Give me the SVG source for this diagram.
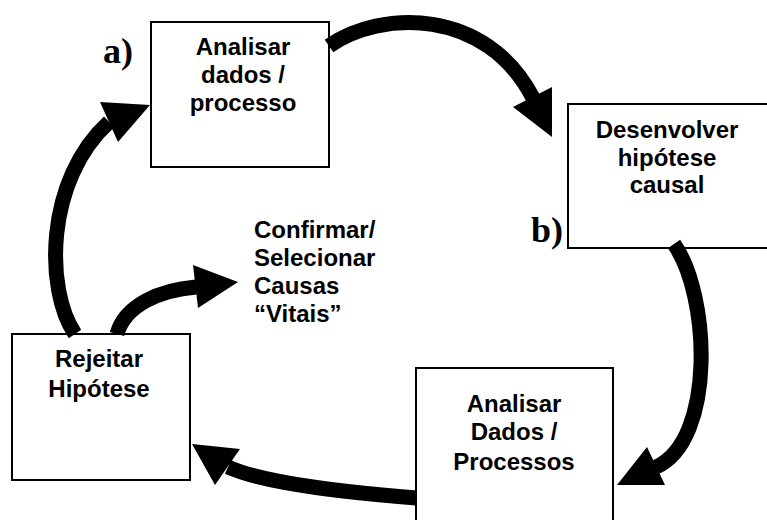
<svg xmlns="http://www.w3.org/2000/svg" width="767" height="520" viewBox="0 0 767 520">
  <style>
    .box { fill: #ffffff; stroke: #000000; stroke-width: 2; }
    .label { font-family: "Liberation Sans", Arial, sans-serif; font-weight: bold; font-size: 24px; fill: #000000; }
    .mid { text-anchor: middle; }
    .tag { font-family: "Liberation Serif", "Times New Roman", serif; font-weight: bold; font-size: 36px; fill: #000000; }
    .band { fill: none; stroke: #000000; stroke-width: 15; }
    .head { fill: #000000; stroke: none; }
  </style>
  <rect width="767" height="520" fill="#ffffff"/>

  <!-- step a: analyse data / process -->
  <g id="node-analisar-dados">
    <rect class="box" x="151" y="22" width="178" height="145"/>
    <text class="label mid" x="243" y="55">Analisar</text>
    <text class="label mid" x="243" y="83">dados /</text>
    <text class="label mid" x="243" y="110.5">processo</text>
    <text class="tag" x="103" y="63">a)</text>
  </g>

  <!-- step b: causal hypothesis -->
  <g id="node-hipotese">
    <rect class="box" x="568" y="104" width="210" height="144"/>
    <text class="label mid" x="667" y="138">Desenvolver</text>
    <text class="label mid" x="667" y="165.5">hipótese</text>
    <text class="label mid" x="667" y="193">causal</text>
    <text class="tag" x="531" y="241.5">b)</text>
  </g>

  <!-- second analysis step -->
  <g id="node-analisar-processos">
    <rect class="box" x="416" y="368" width="197" height="170"/>
    <text class="label mid" x="514" y="411.5">Analisar</text>
    <text class="label mid" x="514" y="440">Dados /</text>
    <text class="label mid" x="514" y="470">Processos</text>
  </g>

  <!-- reject hypothesis -->
  <g id="node-rejeitar">
    <rect class="box" x="12" y="334" width="178" height="146"/>
    <text class="label mid" x="99" y="366.5">Rejeitar</text>
    <text class="label mid" x="99" y="396.5">Hipótese</text>
  </g>

  <!-- outcome text -->
  <g id="node-confirmar">
    <text class="label" x="254" y="238">Confirmar/</text>
    <text class="label" x="254" y="266">Selecionar</text>
    <text class="label" x="254" y="293.5">Causas</text>
    <text class="label" x="254" y="321.5">“Vitais”</text>
  </g>

  <!-- thick curved arrows -->
  <g id="connectors">
    <path class="band" d="M329 46 C380 10 486 7 533 98"/>
    <polygon class="head" points="513,107 552,87 552,137"/>

    <path class="band" d="M674 244 C710 295 716 440 656 467"/>
    <polygon class="head" points="647,447 665,485 617,485"/>

    <path class="band" d="M416 498 C370 494 270 486 228 467"/>
    <polygon class="head" points="240,449 215,485 192,444"/>

    <path class="band" d="M75 334 C45 290 45 180 109 122"/>
    <polygon class="head" points="100,102 118,142 150,105"/>

    <path class="band" d="M117 334 C125 305 160 290 196 287"/>
    <polygon class="head" points="193,265 198,308 238,282"/>
  </g>
</svg>
